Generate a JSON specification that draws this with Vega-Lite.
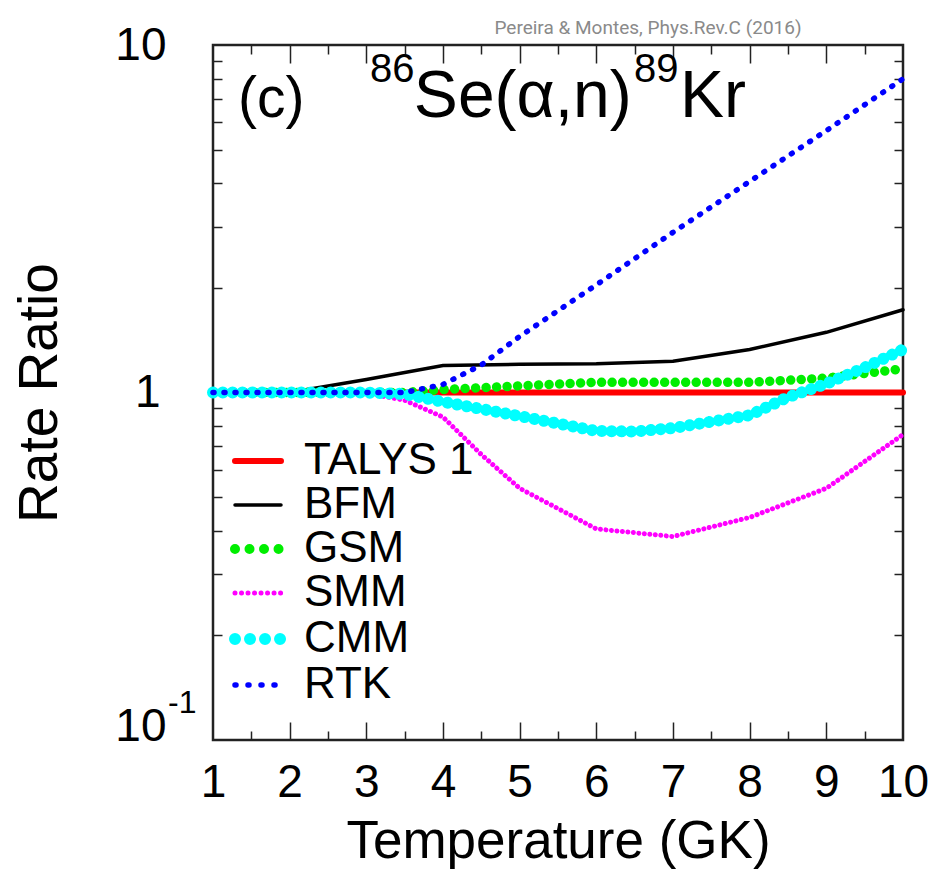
{
  "$schema": "https://vega.github.io/schema/vega-lite/v6.json",
  "width": 690,
  "height": 695,
  "autosize": {"type": "none"},
  "padding": {"left": 213, "top": 45, "right": 32, "bottom": 145},
  "background": "white",
  "title": {"text": "Pereira & Montes, Phys.Rev.C (2016)", "font": "Liberation Sans Narrow, Roboto", "fontSize": 19, "fontWeight": "normal", "color": "#8a8a8a", "anchor": "middle", "dx": 90, "baseline": "alphabetic", "offset": -31, "frame": "group"},
  "config": {
    "view": {"stroke": "#222222", "strokeWidth": 2.5},
    "axis": {"grid": false, "domain": false, "labelFont": "Liberation Sans", "titleFont": "Liberation Sans", "labelColor": "black", "titleColor": "black", "titleFontWeight": "normal", "tickColor": "#222222", "tickWidth": 1.5, "labelFlush": false, "labelOverlap": false, "labelBound": false}
  },
  "data": {"values": [
    {"model": "TALYS 1", "T": 1, "ratio": 1}, {"model": "TALYS 1", "T": 10, "ratio": 1},
    {"model": "BFM", "T": 1, "ratio": 1}, {"model": "BFM", "T": 2, "ratio": 1}, {"model": "BFM", "T": 3, "ratio": 1.09}, {"model": "BFM", "T": 4, "ratio": 1.196}, {"model": "BFM", "T": 5, "ratio": 1.205}, {"model": "BFM", "T": 6, "ratio": 1.21}, {"model": "BFM", "T": 7, "ratio": 1.23}, {"model": "BFM", "T": 8, "ratio": 1.33}, {"model": "BFM", "T": 9, "ratio": 1.49}, {"model": "BFM", "T": 10, "ratio": 1.73},
    {"model": "GSM", "T": 1, "ratio": 1}, {"model": "GSM", "T": 2, "ratio": 1}, {"model": "GSM", "T": 3, "ratio": 1}, {"model": "GSM", "T": 3.5, "ratio": 1}, {"model": "GSM", "T": 4, "ratio": 1.02}, {"model": "GSM", "T": 5, "ratio": 1.045}, {"model": "GSM", "T": 6, "ratio": 1.07}, {"model": "GSM", "T": 7, "ratio": 1.07}, {"model": "GSM", "T": 8, "ratio": 1.07}, {"model": "GSM", "T": 9, "ratio": 1.1}, {"model": "GSM", "T": 10, "ratio": 1.17},
    {"model": "SMM", "T": 1, "ratio": 1}, {"model": "SMM", "T": 2, "ratio": 1}, {"model": "SMM", "T": 3, "ratio": 0.995}, {"model": "SMM", "T": 3.5, "ratio": 0.95}, {"model": "SMM", "T": 4, "ratio": 0.85}, {"model": "SMM", "T": 4.5, "ratio": 0.663}, {"model": "SMM", "T": 5, "ratio": 0.53}, {"model": "SMM", "T": 6, "ratio": 0.405}, {"model": "SMM", "T": 7, "ratio": 0.385}, {"model": "SMM", "T": 8, "ratio": 0.437}, {"model": "SMM", "T": 9, "ratio": 0.53}, {"model": "SMM", "T": 10, "ratio": 0.757},
    {"model": "CMM", "T": 1, "ratio": 1}, {"model": "CMM", "T": 2, "ratio": 1}, {"model": "CMM", "T": 3, "ratio": 1}, {"model": "CMM", "T": 3.5, "ratio": 0.99}, {"model": "CMM", "T": 4, "ratio": 0.94}, {"model": "CMM", "T": 5, "ratio": 0.855}, {"model": "CMM", "T": 6, "ratio": 0.775}, {"model": "CMM", "T": 6.5, "ratio": 0.772}, {"model": "CMM", "T": 7, "ratio": 0.79}, {"model": "CMM", "T": 8, "ratio": 0.86}, {"model": "CMM", "T": 8.5, "ratio": 0.97}, {"model": "CMM", "T": 9, "ratio": 1.06}, {"model": "CMM", "T": 9.5, "ratio": 1.18}, {"model": "CMM", "T": 10, "ratio": 1.33},
    {"model": "RTK", "T": 1, "ratio": 1}, {"model": "RTK", "T": 2, "ratio": 1}, {"model": "RTK", "T": 3, "ratio": 1}, {"model": "RTK", "T": 3.5, "ratio": 1.0}, {"model": "RTK", "T": 4, "ratio": 1.055}, {"model": "RTK", "T": 4.5, "ratio": 1.2}, {"model": "RTK", "T": 5, "ratio": 1.45}, {"model": "RTK", "T": 6, "ratio": 2.04}, {"model": "RTK", "T": 7, "ratio": 2.89}, {"model": "RTK", "T": 8, "ratio": 4.05}, {"model": "RTK", "T": 9, "ratio": 5.67}, {"model": "RTK", "T": 10, "ratio": 7.99}
  ]},
  "resolve": {"axis": {"x": "independent", "y": "independent"}},
  "layer": [
    {
      "transform": [{"filter": "datum.model === 'TALYS 1'"}],
      "mark": {"type": "line", "strokeWidth": 6, "strokeCap": "round"},
      "encoding": {
        "x": {"field": "T", "type": "quantitative", "scale": {"domain": [1, 10], "nice": false, "zero": false},
              "axis": {"orient": "bottom", "values": [1, 2, 3, 4, 5, 6, 7, 8, 9, 10], "ticks": false, "tickSize": 0, "labelFontSize": 46, "labelPadding": 20, "title": "Temperature (GK)", "titleFontSize": 53, "titlePadding": 10}},
        "y": {"field": "ratio", "type": "quantitative", "scale": {"type": "log", "domain": [0.1, 10], "nice": false},
              "axis": {"orient": "left", "values": [0.1, 1, 10], "ticks": false, "tickSize": 0, "labelFontSize": 46,
                       "labelPadding": {"condition": {"test": "datum.value > 0.5 && datum.value < 5", "value": 53}, "value": 47},
                       "labelExpr": "datum.value > 0.5 && datum.value < 5 ? '1' : '10'",
                       "labelBaseline": {"condition": {"test": "datum.value < 0.5", "value": "alphabetic"}, "value": "middle"},
                       "title": "Rate Ratio", "titleFontSize": 55, "titlePadding": 46}},
        "color": {"field": "model", "type": "nominal",
                  "scale": {"domain": ["TALYS 1", "BFM", "GSM", "SMM", "CMM", "RTK"], "range": ["#ff0000", "#000000", "#00ee00", "#ff00ff", "#00ffff", "#0000ff"]},
                  "legend": {"orient": "none", "legendX": 23, "legendY": 394, "title": null, "symbolType": "stroke", "symbolSize": 2116, "labelFontSize": 44, "labelFont": "Liberation Sans", "labelColor": "black", "labelLimit": 400, "labelOffset": 24, "rowPadding": 0, "padding": 0,
                             "encode": {"symbols": {"update": {
                               "strokeWidth": {"signal": "datum.value === 'TALYS 1' ? 6 : datum.value === 'BFM' ? 3.5 : datum.value === 'GSM' ? 10 : datum.value === 'SMM' ? 5 : datum.value === 'CMM' ? 12 : 5.5"},
                               "strokeDash": {"signal": "datum.value === 'GSM' ? [0.01, 14.5] : datum.value === 'SMM' ? [0.01, 6.5] : datum.value === 'CMM' ? [0.01, 15] : datum.value === 'RTK' ? [1, 12] : [1, 0]"},
                               "strokeCap": {"value": "round"}}}}}}
      }
    },
    {
      "transform": [{"filter": "datum.model === 'BFM'"}],
      "mark": {"type": "line", "strokeWidth": 3.5, "strokeCap": "round"},
      "encoding": {
        "x": {"field": "T", "type": "quantitative", "scale": {"domain": [1, 10], "nice": false, "zero": false},
              "axis": {"orient": "bottom", "values": [2, 3, 4, 5, 6, 7, 8, 9], "labels": false, "tickSize": -18, "title": null}},
        "y": {"field": "ratio", "type": "quantitative", "scale": {"type": "log", "domain": [0.1, 10], "nice": false},
              "axis": {"orient": "left", "values": [1], "labels": false, "tickSize": -18, "title": null}},
        "color": {"field": "model", "type": "nominal", "scale": {"domain": ["TALYS 1", "BFM", "GSM", "SMM", "CMM", "RTK"], "range": ["#ff0000", "#000000", "#00ee00", "#ff00ff", "#00ffff", "#0000ff"]}}
      }
    },
    {
      "transform": [{"filter": "datum.model === 'GSM'"}],
      "mark": {"type": "line", "strokeWidth": 9.5, "strokeCap": "round", "strokeDash": [0.01, 10.5]},
      "encoding": {
        "x": {"field": "T", "type": "quantitative", "scale": {"domain": [1, 10], "nice": false, "zero": false},
              "axis": {"orient": "bottom", "values": [1.5, 2.5, 3.5, 4.5, 5.5, 6.5, 7.5, 8.5, 9.5], "labels": false, "tickSize": -9, "title": null}},
        "y": {"field": "ratio", "type": "quantitative", "scale": {"type": "log", "domain": [0.1, 10], "nice": false},
              "axis": {"orient": "left", "values": [0.2, 0.3, 0.4, 0.5, 0.6, 0.7, 0.8, 0.9, 2, 3, 4, 5, 6, 7, 8, 9], "labels": false, "tickSize": -9, "title": null}},
        "color": {"field": "model", "type": "nominal", "scale": {"domain": ["TALYS 1", "BFM", "GSM", "SMM", "CMM", "RTK"], "range": ["#ff0000", "#000000", "#00ee00", "#ff00ff", "#00ffff", "#0000ff"]}}
      }
    },
    {
      "transform": [{"filter": "datum.model === 'SMM'"}],
      "mark": {"type": "line", "strokeWidth": 5, "strokeCap": "round", "strokeDash": [0.01, 5.5]},
      "encoding": {
        "x": {"field": "T", "type": "quantitative", "scale": {"domain": [1, 10], "nice": false, "zero": false},
              "axis": {"orient": "top", "values": [2, 3, 4, 5, 6, 7, 8, 9], "labels": false, "tickSize": -18, "title": null}},
        "y": {"field": "ratio", "type": "quantitative", "scale": {"type": "log", "domain": [0.1, 10], "nice": false},
              "axis": {"orient": "right", "values": [1], "labels": false, "tickSize": -18, "title": null}},
        "color": {"field": "model", "type": "nominal", "scale": {"domain": ["TALYS 1", "BFM", "GSM", "SMM", "CMM", "RTK"], "range": ["#ff0000", "#000000", "#00ee00", "#ff00ff", "#00ffff", "#0000ff"]}}
      }
    },
    {
      "transform": [{"filter": "datum.model === 'CMM'"}],
      "mark": {"type": "line", "strokeWidth": 12, "strokeCap": "round", "strokeDash": [0.01, 9.8]},
      "encoding": {
        "x": {"field": "T", "type": "quantitative", "scale": {"domain": [1, 10], "nice": false, "zero": false},
              "axis": {"orient": "top", "values": [1.5, 2.5, 3.5, 4.5, 5.5, 6.5, 7.5, 8.5, 9.5], "labels": false, "tickSize": -9, "title": null}},
        "y": {"field": "ratio", "type": "quantitative", "scale": {"type": "log", "domain": [0.1, 10], "nice": false},
              "axis": {"orient": "right", "values": [0.2, 0.3, 0.4, 0.5, 0.6, 0.7, 0.8, 0.9, 2, 3, 4, 5, 6, 7, 8, 9], "labels": false, "tickSize": -9, "title": null}},
        "color": {"field": "model", "type": "nominal", "scale": {"domain": ["TALYS 1", "BFM", "GSM", "SMM", "CMM", "RTK"], "range": ["#ff0000", "#000000", "#00ee00", "#ff00ff", "#00ffff", "#0000ff"]}}
      }
    },
    {
      "transform": [{"filter": "datum.model === 'RTK'"}],
      "mark": {"type": "line", "strokeWidth": 5.5, "strokeCap": "round", "strokeDash": [1, 10]},
      "encoding": {
        "x": {"field": "T", "type": "quantitative", "scale": {"domain": [1, 10], "nice": false, "zero": false}, "axis": null},
        "y": {"field": "ratio", "type": "quantitative", "scale": {"type": "log", "domain": [0.1, 10], "nice": false}, "axis": null},
        "color": {"field": "model", "type": "nominal", "scale": {"domain": ["TALYS 1", "BFM", "GSM", "SMM", "CMM", "RTK"], "range": ["#ff0000", "#000000", "#00ee00", "#ff00ff", "#00ffff", "#0000ff"]}}
      }
    },
    {
      "data": {"values": [{"s": "-1"}]},
      "mark": {"type": "text", "align": "left", "baseline": "alphabetic", "fontSize": 32, "font": "Liberation Sans", "color": "black", "dx": -45, "dy": -27},
      "encoding": {"x": {"datum": 1, "type": "quantitative", "axis": null}, "y": {"datum": 0.1, "type": "quantitative", "axis": null}, "text": {"field": "s"}}
    },
    {
      "data": {"values": [{"s": "(c)"}]},
      "mark": {"type": "text", "align": "left", "baseline": "alphabetic", "fontSize": 57, "font": "Liberation Sans", "color": "black"},
      "encoding": {"x": {"datum": 1.326, "type": "quantitative", "axis": null}, "y": {"datum": 6.2, "type": "quantitative", "axis": null}, "text": {"field": "s"}}
    },
    {
      "data": {"values": [{"s": "86"}]},
      "mark": {"type": "text", "align": "left", "baseline": "alphabetic", "fontSize": 40, "font": "Liberation Sans", "color": "black"},
      "encoding": {"x": {"datum": 3.048, "type": "quantitative", "axis": null}, "y": {"datum": 7.8, "type": "quantitative", "axis": null}, "text": {"field": "s"}}
    },
    {
      "data": {"values": [{"s": "Se(α,n)"}]},
      "mark": {"type": "text", "align": "left", "baseline": "alphabetic", "fontSize": 66, "font": "Liberation Sans", "color": "black"},
      "encoding": {"x": {"datum": 3.62, "type": "quantitative", "axis": null}, "y": {"datum": 6.2, "type": "quantitative", "axis": null}, "text": {"field": "s"}}
    },
    {
      "data": {"values": [{"s": "89"}]},
      "mark": {"type": "text", "align": "left", "baseline": "alphabetic", "fontSize": 40, "font": "Liberation Sans", "color": "black"},
      "encoding": {"x": {"datum": 6.49, "type": "quantitative", "axis": null}, "y": {"datum": 7.8, "type": "quantitative", "axis": null}, "text": {"field": "s"}}
    },
    {
      "data": {"values": [{"s": "Kr"}]},
      "mark": {"type": "text", "align": "left", "baseline": "alphabetic", "fontSize": 66, "font": "Liberation Sans", "color": "black"},
      "encoding": {"x": {"datum": 7.09, "type": "quantitative", "axis": null}, "y": {"datum": 6.2, "type": "quantitative", "axis": null}, "text": {"field": "s"}}
    }
  ]
}
